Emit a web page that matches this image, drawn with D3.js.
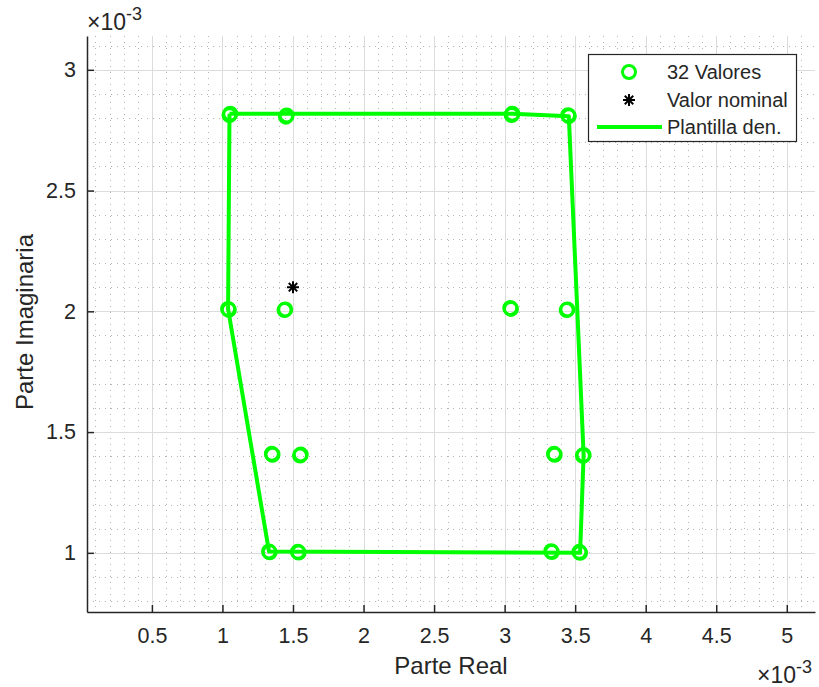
<!DOCTYPE html>
<html>
<head>
<meta charset="utf-8">
<script src="https://cdn.jsdelivr.net/npm/d3@7"></script>
<style>
  html, body { margin: 0; padding: 0; background: #fff; }
  svg { display: block; }
  text { font-family: "Liberation Sans", Arial, Helvetica, sans-serif; fill: #262626; }
</style>
</head>
<body>
<svg id="chart" width="819" height="687"></svg>
<script>
// Measured values (real part, imaginary part), 32 samples
const realVals = [
  1.055e-3, 1.050e-3, 1.450e-3, 1.455e-3, 3.055e-3, 3.050e-3, 3.455e-3, 3.450e-3,
  1.040e-3, 1.045e-3, 1.440e-3, 1.445e-3, 3.040e-3, 3.045e-3, 3.440e-3, 3.445e-3,
  1.350e-3, 1.355e-3, 1.550e-3, 1.555e-3, 3.350e-3, 3.355e-3, 3.560e-3, 3.555e-3,
  1.330e-3, 1.335e-3, 1.540e-3, 1.535e-3, 3.330e-3, 3.335e-3, 3.535e-3, 3.530e-3
];
const imagVals = [
  2.818e-3, 2.812e-3, 2.806e-3, 2.811e-3, 2.818e-3, 2.813e-3, 2.808e-3, 2.812e-3,
  2.010e-3, 2.006e-3, 2.005e-3, 2.008e-3, 2.014e-3, 2.010e-3, 2.005e-3, 2.008e-3,
  1.410e-3, 1.406e-3, 1.403e-3, 1.407e-3, 1.410e-3, 1.406e-3, 1.405e-3, 1.402e-3,
  1.006e-3, 1.002e-3, 1.001e-3, 1.004e-3, 1.007e-3, 1.003e-3, 1.000e-3, 1.004e-3
];

// Nominal value
const nominalReal = [1.5e-3];
const nominalImag = [2.1e-3];

// Density template outline (closed polygon)
const templateReal = [1.050e-3, 3.055e-3, 3.455e-3, 3.560e-3, 3.535e-3, 1.330e-3, 1.040e-3, 1.050e-3];
const templateImag = [2.818e-3, 2.818e-3, 2.808e-3, 1.405e-3, 1.000e-3, 1.005e-3, 2.010e-3, 2.818e-3];

// Axis ticks
const xTicks = [0.5e-3, 1e-3, 1.5e-3, 2e-3, 2.5e-3, 3e-3, 3.5e-3, 4e-3, 4.5e-3, 5e-3];
const yTicks = [1e-3, 1.5e-3, 2e-3, 2.5e-3, 3e-3];
const xDomain = [0.04e-3, 5.2e-3];
const yDomain = [0.755e-3, 3.14e-3];

const legendLabels = ["32 Valores", "Valor nominal", "Plantilla den."];

const GREEN = "#00ff00";
const svg = d3.select("#chart");
const plot = { left: 87, right: 815, top: 36, bottom: 612 };

const x = d3.scaleLinear().domain(xDomain).range([plot.left, plot.right]);
const y = d3.scaleLinear().domain(yDomain).range([plot.bottom, plot.top]);

const fmt = v => d3.format("~g")(+(v * 1e3).toFixed(4));

// Minor grid (dotted)
const xMinor = d3.range(1, 52).map(i => i * 0.1e-3).filter(v => v >= xDomain[0] && v <= xDomain[1]);
const yMinor = d3.range(8, 32).map(i => i * 0.1e-3).filter(v => v >= yDomain[0] && v <= yDomain[1]);
const grid = svg.append("g");
grid.selectAll("line.xm").data(xMinor).join("line")
  .attr("x1", d => Math.round(x(d)) + 0.5).attr("x2", d => Math.round(x(d)) + 0.5)
  .attr("y1", plot.top).attr("y2", plot.bottom)
  .attr("stroke", "#b4b4b4").attr("stroke-width", 1).attr("stroke-dasharray", "1,5");
grid.selectAll("line.ym").data(yMinor).join("line")
  .attr("y1", d => Math.round(y(d)) + 0.5).attr("y2", d => Math.round(y(d)) + 0.5)
  .attr("x1", plot.left).attr("x2", plot.right)
  .attr("stroke", "#b4b4b4").attr("stroke-width", 1).attr("stroke-dasharray", "1,5");

// Major grid
grid.selectAll("line.xg").data(xTicks).join("line")
  .attr("x1", d => Math.round(x(d)) + 0.5).attr("x2", d => Math.round(x(d)) + 0.5)
  .attr("y1", plot.top).attr("y2", plot.bottom)
  .attr("stroke", "#dcdcdc").attr("stroke-width", 1);
grid.selectAll("line.yg").data(yTicks).join("line")
  .attr("y1", d => Math.round(y(d)) + 0.5).attr("y2", d => Math.round(y(d)) + 0.5)
  .attr("x1", plot.left).attr("x2", plot.right)
  .attr("stroke", "#dcdcdc").attr("stroke-width", 1);

// Axes (ticks pointing inward)
const xAxis = svg.append("g").attr("transform", `translate(0,${plot.bottom})`)
  .call(d3.axisBottom(x).tickValues(xTicks).tickFormat(fmt).tickSizeInner(-7).tickSizeOuter(0).tickPadding(16));
const yAxis = svg.append("g").attr("transform", `translate(${plot.left},0)`)
  .call(d3.axisLeft(y).tickValues(yTicks).tickFormat(fmt).tickSizeInner(-7).tickSizeOuter(0).tickPadding(11));
[xAxis, yAxis].forEach(a => {
  a.select(".domain").attr("stroke", "#262626").attr("stroke-width", 1.5);
  a.selectAll(".tick line").attr("stroke", "#262626").attr("stroke-width", 1.5);
  a.selectAll(".tick text").attr("font-size", 21.5).attr("fill", "#262626")
    .attr("font-family", "'Liberation Sans', Arial, sans-serif");
});
xAxis.selectAll(".tick text").attr("dy", "0.71em");

// Exponent labels
function expLabel(xp, yp) {
  const t = svg.append("text").attr("x", xp).attr("y", yp).attr("font-size", 23);
  t.append("tspan").text("\u00d710");
  t.append("tspan").attr("font-size", 18).attr("dy", -10).text("-3");
}
expLabel(87, 30);
expLabel(757, 683);

// Axis titles
svg.append("text").attr("x", (plot.left + plot.right) / 2).attr("y", 674)
  .attr("text-anchor", "middle").attr("font-size", 24).text("Parte Real");
svg.append("text").attr("transform", "translate(33,322) rotate(-90)")
  .attr("text-anchor", "middle").attr("font-size", 24).text("Parte Imaginaria");

// Template polygon
const pts = templateReal.map((r, i) => [r, templateImag[i]]);
svg.append("path").datum(pts)
  .attr("d", d3.line().x(d => x(d[0])).y(d => y(d[1])))
  .attr("fill", "none").attr("stroke", GREEN).attr("stroke-width", 4).attr("stroke-linejoin", "round");

// Measured samples
const samples = realVals.map((r, i) => [r, imagVals[i]]);
svg.append("g").selectAll("circle").data(samples).join("circle")
  .attr("cx", d => x(d[0])).attr("cy", d => y(d[1])).attr("r", 6.5)
  .attr("fill", "none").attr("stroke", GREEN).attr("stroke-width", 3);

// Asterisk marker
function asterisk(g, cx, cy, s) {
  const a = s * 0.707;
  g.append("path")
    .attr("d", `M${cx - s},${cy}L${cx + s},${cy}M${cx},${cy - s}L${cx},${cy + s}M${cx - a},${cy - a}L${cx + a},${cy + a}M${cx - a},${cy + a}L${cx + a},${cy - a}`)
    .attr("stroke", "#000").attr("stroke-width", 2).attr("fill", "none");
}
nominalReal.forEach((r, i) => asterisk(svg.append("g"), x(r), y(nominalImag[i]), 6));

// Legend
const lg = svg.append("g");
lg.append("rect").attr("x", 588.5).attr("y", 54.5).attr("width", 208).attr("height", 87)
  .attr("fill", "#fff").attr("stroke", "#262626").attr("stroke-width", 1.2);
const rowY = [72, 100, 127];
lg.append("circle").attr("cx", 629).attr("cy", rowY[0]).attr("r", 6.5)
  .attr("fill", "none").attr("stroke", GREEN).attr("stroke-width", 3);
asterisk(lg, 629, rowY[1], 6);
lg.append("line").attr("x1", 597).attr("x2", 662).attr("y1", rowY[2]).attr("y2", rowY[2])
  .attr("stroke", GREEN).attr("stroke-width", 4);
lg.selectAll("text").data(legendLabels).join("text")
  .attr("x", 667).attr("y", (d, i) => rowY[i]).attr("dy", "0.35em")
  .attr("font-size", 20).attr("fill", "#000").text(d => d);
</script>
</body>
</html>
